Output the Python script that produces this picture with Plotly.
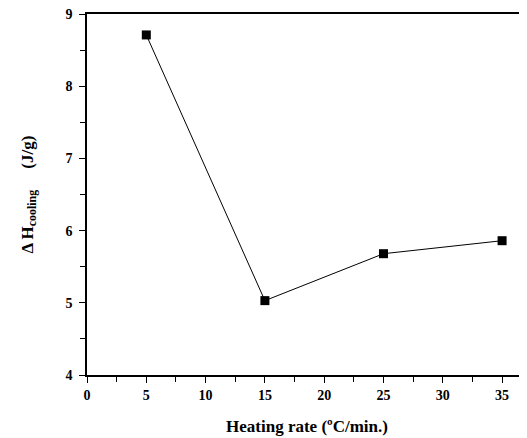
import plotly.graph_objects as go

heating_rate = [5, 15, 25, 35]
dh_cooling = [8.71, 5.03, 5.68, 5.86]
x_tickvals = [0, 5, 10, 15, 20, 25, 30, 35]
y_tickvals = [4, 5, 6, 7, 8, 9]

font_fam = "Liberation Serif"

fig = go.Figure()
fig.add_trace(go.Scatter(
    x=heating_rate, y=dh_cooling, mode="lines+markers",
    line=dict(color="black", width=1),
    marker=dict(symbol="square", size=9, color="black"),
    showlegend=False,
))

# page body has an 8px margin, so margins are reduced to compensate
fig.update_layout(
    width=527, height=438,
    margin=dict(l=79, r=8, t=6, b=71),
    plot_bgcolor="white", paper_bgcolor="white",
    font=dict(family=font_fam, size=14, color="black"),
    xaxis=dict(
        range=[0, 37.1], tickvals=x_tickvals,
        ticktext=["<b>%d</b>" % v for v in x_tickvals],
        ticks="outside", ticklen=6, tickwidth=1.2, tickcolor="black",
        minor=dict(dtick=2.5, tick0=0, ticks="outside", ticklen=5, tickwidth=1, tickcolor="black"),
        showline=True, linecolor="black", linewidth=1.5, mirror=True,
        showgrid=False, zeroline=False, automargin=False,
        ticklabeloverflow="allow",
        title=dict(text="<b>Heating rate (ºC/min.)</b>", font=dict(size=17), standoff=19),
    ),
    yaxis=dict(
        range=[4, 9], tickvals=y_tickvals,
        ticktext=["<b>%d</b>" % v for v in y_tickvals],
        ticks="outside", ticklen=6, tickwidth=1.2, tickcolor="black",
        minor=dict(dtick=0.5, tick0=4, ticks="outside", ticklen=5, tickwidth=1, tickcolor="black"),
        showline=True, linecolor="black", linewidth=1.5,
        showgrid=False, zeroline=False, automargin=False,
        ticklabeloverflow="allow", ticklabelstandoff=4,
        title=dict(text="<b>Δ H<sub>cooling</sub>     (J/g)</b>", font=dict(size=17), standoff=28),
    ),
)

fig.write_html("out.html")
